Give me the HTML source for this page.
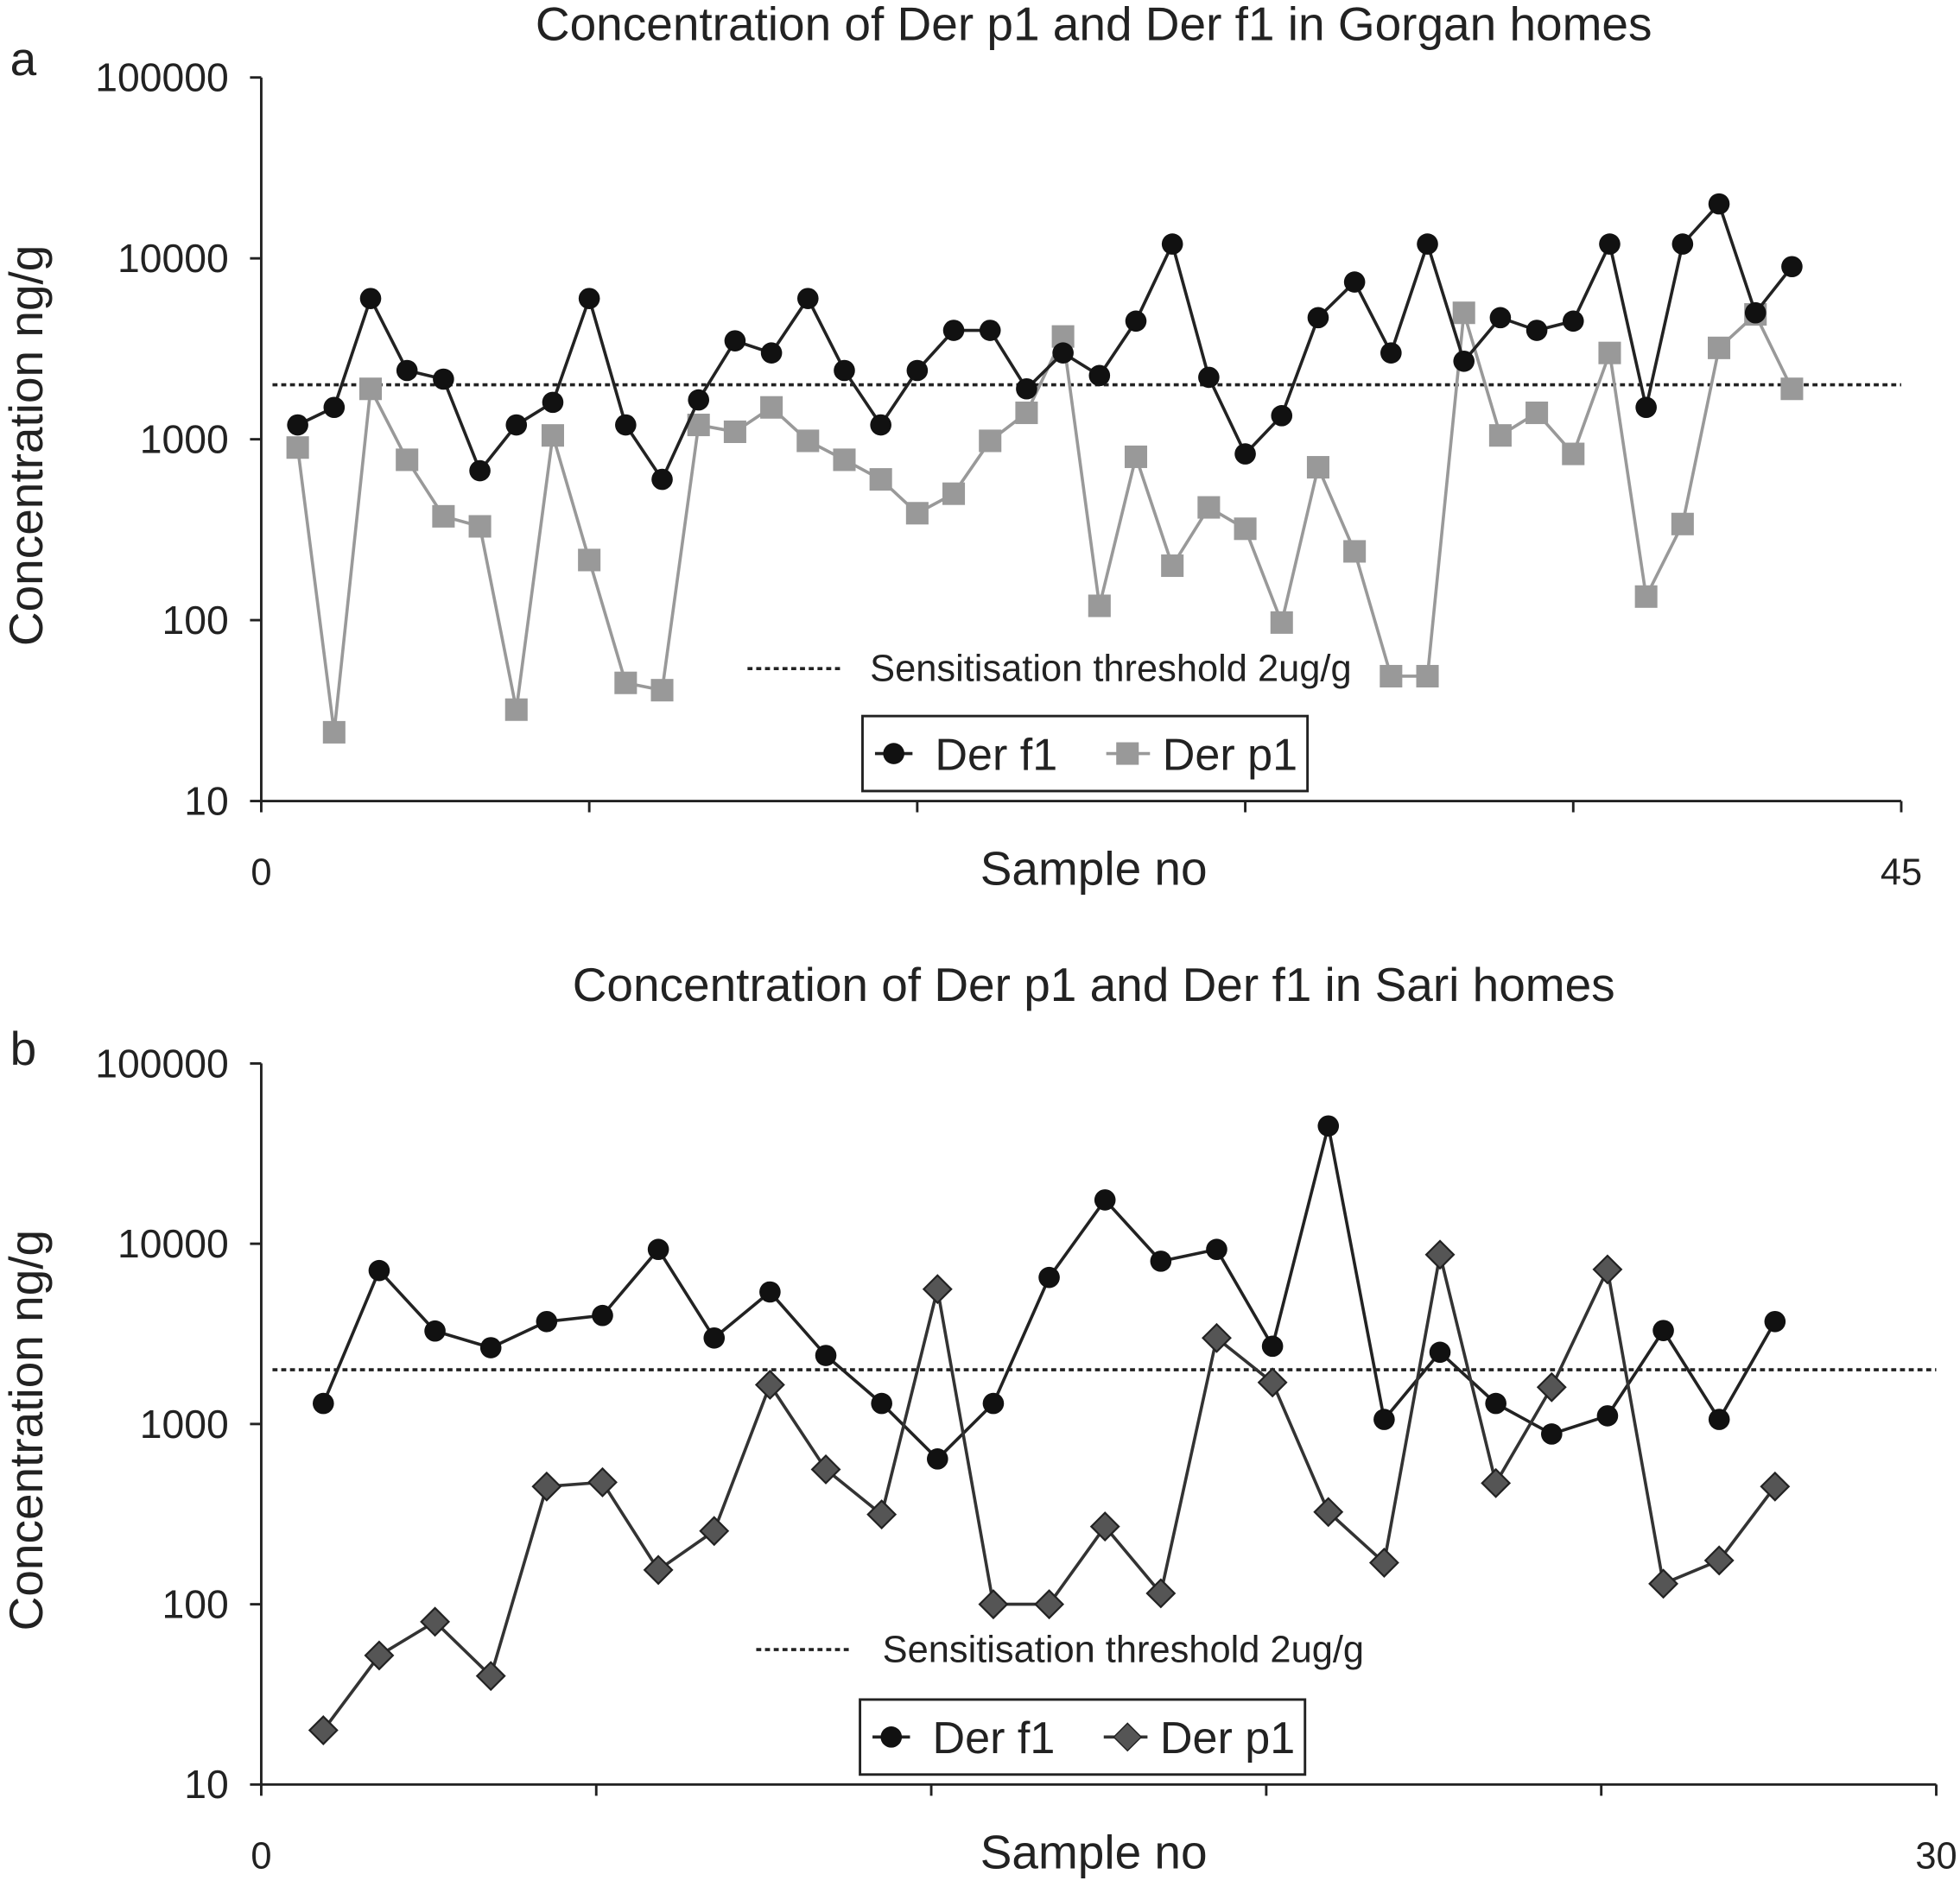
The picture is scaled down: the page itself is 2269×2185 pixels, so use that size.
<!DOCTYPE html>
<html><head><meta charset="utf-8">
<style>
html,body{margin:0;padding:0;background:#fff;}
svg{display:block;font-family:"Liberation Sans",Arial,sans-serif;}
</style></head>
<body>
<svg id="c" width="2269" height="2185" viewBox="0 0 1568 1510" preserveAspectRatio="none" xmlns="http://www.w3.org/2000/svg">
<rect width="1568" height="1510" fill="#fff"/>
<g id="ga"></g>
<g id="gb"></g>
</svg>
<script>
const aF1 = [1200,1500,6000,2400,2150,670,1200,1600,6000,1200,600,1650,3500,3000,6000,2400,1200,2400,4000,4000,1900,3000,2250,4500,12000,2200,830,1350,4700,7400,3000,12000,2700,4700,4000,4500,12000,1500,12000,20000,5000,9000];
const aP1 = [900,24,1900,770,375,330,32,1050,215,45,41,1200,1100,1500,980,770,600,390,500,980,1400,3700,120,800,200,420,320,97,700,240,49,49,5000,1050,1400,830,3000,135,340,3200,4900,1900];
const bF1 = [1300,7100,3280,2650,3700,4000,9300,3000,5400,2400,1300,640,1300,6500,17500,8000,9300,2700,45000,1060,2500,1300,880,1110,3300,1060,3700];
const bP1 = [20,52,80,40,450,475,155,255,1650,560,315,5600,100,100,270,115,3000,1700,325,170,8700,470,1600,7200,130,175,450];
const yTicks = [10,100,1000,10000,100000];
const threshold = 2000;
const NS = "http://www.w3.org/2000/svg";
function mk(parent, tag, attrs, text){
  const e = document.createElementNS(NS, tag);
  for (const k in attrs) e.setAttribute(k, attrs[k]);
  if (text !== undefined) e.textContent = text;
  parent.appendChild(e); return e;
}
function chart(g, cfg){
  const {x0,x1,xmax,yTop,yBot,xTicks,title,titleY,letter,letterY,f1,p1,p1Style,legY,legX,thrY,thrLX,thrTX,shift} = cfg;
  const xs = n => x0 + (n/xmax)*(x1-x0);
  const ys = v => yBot - (Math.log10(v)-1)/4*(yBot-yTop);
  let t = mk(g,'text',{x:875,y:titleY,'font-size':38,'text-anchor':'middle',fill:'#222'},title);
   
  t = mk(g,'text',{x:8,y:letterY,'font-size':38,fill:'#222'},letter);
   
  let ax = mk(g,'line',{x1:x0,y1:yTop,x2:x0,y2:yBot,stroke:'#222','stroke-width':2});
   
  ax = mk(g,'line',{x1:x0,y1:yBot,x2:x1,y2:yBot,stroke:'#222','stroke-width':2});
   
  yTicks.forEach(v=>{
    const y = ys(v);
    const l = mk(g,'line',{x1:x0-9,y1:y,x2:x0,y2:y,stroke:'#222','stroke-width':2});
     
    const tx = mk(g,'text',{x:x0-26,y:y+11,'font-size':32,'text-anchor':'end',fill:'#222'},String(v));
     
  });
  xTicks.forEach(v=>{
    const x = xs(v);
    const l = mk(g,'line',{x1:x,y1:yBot,x2:x,y2:yBot+9,stroke:'#222','stroke-width':2});
     
  });
  t = mk(g,'text',{x:x0,y:yBot+67,'font-size':30,'text-anchor':'middle',fill:'#222'},'0');
   
  t = mk(g,'text',{x:x1,y:yBot+67,'font-size':30,'text-anchor':'middle',fill:'#222'},String(xmax));
   
  t = mk(g,'text',{x:875,y:yBot+67,'font-size':38,'text-anchor':'middle',fill:'#222'},'Sample no');
   
  const cy = (yTop+yBot)/2 + 5;
  t = mk(g,'text',{x:0,y:0,'font-size':38,'text-anchor':'middle',fill:'#222',transform:`translate(34,${cy}) rotate(-90)`},'Concentration ng/g');
   
  const ty = ys(threshold);
  let tl = mk(g,'line',{x1:x0+9,y1:ty,x2:x1,y2:ty,stroke:'#222','stroke-width':2.5,'stroke-dasharray':'4 3'});
   
  function series(vals, color, lw, marker, name){
    const pts = vals.map((v,i)=>[xs(i+1)+shift,ys(v)]);
    const pl = mk(g,'polyline',{points:pts.map(p=>p.join(',')).join(' '),fill:'none',stroke:color,'stroke-width':lw});
     
    pts.forEach(p=>{ const m = marker(p[0],p[1]);   });
  }
  const circ = (x,y)=>mk(g,'circle',{cx:x,cy:y,r:8.5,fill:'#111'});
  const sq = (x,y)=>mk(g,'rect',{x:x-9,y:y-9,width:18,height:18,fill:'#999'});
  const dia = (x,y)=>mk(g,'polygon',{points:`${x},${y-11} ${x+11},${y} ${x},${y+11} ${x-11},${y}`,fill:'#555',stroke:'#222','stroke-width':1.5});
  if (p1Style==='square') series(p1,'#999',2.5,sq,'der-p1');
  series(f1,'#222',2.5,circ,'der-f1');
  if (p1Style==='diamond') series(p1,'#333',2.5,dia,'der-p1');
  let ll = mk(g,'line',{x1:thrLX,y1:thrY,x2:thrLX+75,y2:thrY,stroke:'#222','stroke-width':2.5,'stroke-dasharray':'4 3'});
   
  t = mk(g,'text',{x:thrTX,y:thrY+10,'font-size':30,fill:'#222'},'Sensitisation threshold 2ug/g');
   
  const lg = mk(g,'g',{});
   
  mk(lg,'rect',{x:legX,y:legY,width:356,height:60,fill:'#fff',stroke:'#222','stroke-width':2});
  const my = legY+30;
  mk(lg,'line',{x1:legX+10,y1:my,x2:legX+40,y2:my,stroke:'#222','stroke-width':2.5});
  mk(lg,'circle',{cx:legX+25,cy:my,r:8.5,fill:'#111'});
  let e = mk(lg,'text',{x:legX+58,y:my+13,'font-size':36,fill:'#222'},'Der f1');
   
  if (p1Style==='square'){
    mk(lg,'line',{x1:legX+195,y1:my,x2:legX+230,y2:my,stroke:'#999','stroke-width':2.5});
    mk(lg,'rect',{x:legX+203,y:my-9,width:18,height:18,fill:'#999'});
  } else {
    mk(lg,'line',{x1:legX+195,y1:my,x2:legX+230,y2:my,stroke:'#333','stroke-width':2.5});
    mk(lg,'polygon',{points:`${legX+214},${my-11} ${legX+225},${my} ${legX+214},${my+11} ${legX+203},${my}`,fill:'#555',stroke:'#222'});
  }
  e = mk(lg,'text',{x:legX+240,y:my+13,'font-size':36,fill:'#222'},'Der p1');
   
}
chart(document.getElementById('ga'),{x0:209,x1:1521,xmax:45,yTop:62,yBot:641,xTicks:[0,9,18,27,36,45],
  title:'Concentration of Der p1 and Der f1 in Gorgan homes',titleY:32,letter:'a',letterY:60,f1:aF1,p1:aP1,p1Style:'square',
  legX:690,legY:573,thrY:535,thrLX:598,thrTX:696,shift:0});
chart(document.getElementById('gb'),{x0:209,x1:1549,xmax:30,yTop:851,yBot:1428,xTicks:[0,6,12,18,24,30],
  title:'Concentration of Der p1 and Der f1 in Sari homes',titleY:801,letter:'b',letterY:852,f1:bF1,p1:bP1,p1Style:'diamond',
  legX:688,legY:1360,thrY:1320,thrLX:605,thrTX:706,shift:5});
</script>
</body></html>
